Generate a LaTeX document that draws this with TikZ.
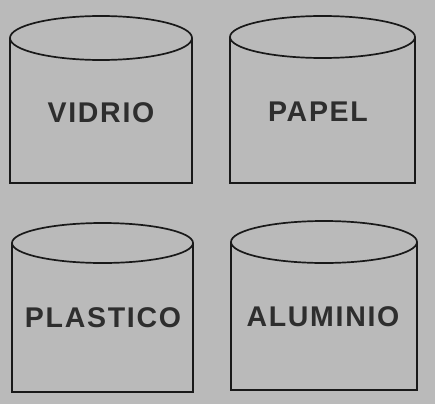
\documentclass[tikz,border=0pt]{standalone}
\usepackage{fontspec}
\setmainfont{Liberation Sans}[LetterSpace=6]
\tikzset{
  bin/.style={draw=black!90, line width=1.7pt},
  lbl/.style={font=\bfseries\fontsize{28.5}{30}\selectfont, text=black!82, inner sep=0pt}
}
\begin{document}
\begin{tikzpicture}[x=1pt,y=-1pt]
\fill[black!27] (0,0) rectangle (435,404);
\useasboundingbox (0,0) rectangle (435,404);
% cylinder 1
\draw[bin] (101,38) ellipse [x radius=91, y radius=22];
\draw[bin] (10,38) -- (10,183) -- (192,183) -- (192,38);
\node[lbl] (vidrio) at (101,113) {VIDRIO};
% cylinder 2
\draw[bin] (322.5,37) ellipse [x radius=92.5, y radius=21];
\draw[bin] (230,37) -- (230,183) -- (415,183) -- (415,37);
\node[lbl] (papel) at (318,112) {PAPEL};
% cylinder 3
\draw[bin] (102.5,243) ellipse [x radius=90.5, y radius=20];
\draw[bin] (12,243) -- (12,392) -- (193,392) -- (193,243);
\node[lbl] (plastico) at (103,318) {PLASTICO};
% cylinder 4
\draw[bin] (324,242) ellipse [x radius=93, y radius=21];
\draw[bin] (231,242) -- (231,390) -- (417,390) -- (417,242);
\node[lbl] (aluminio) at (323,317) {ALUMINIO};
\end{tikzpicture}
\end{document}
